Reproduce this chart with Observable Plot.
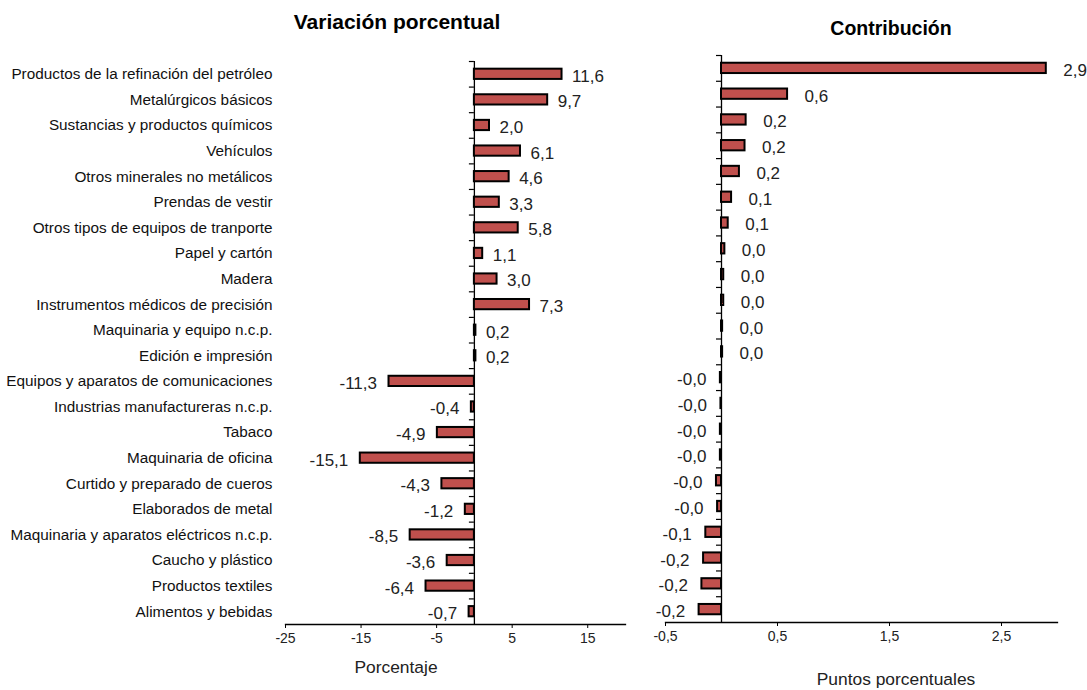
<!DOCTYPE html>
<html>
<head>
<meta charset="utf-8">
<script src="https://cdn.jsdelivr.net/npm/d3@7"></script>
<script src="https://cdn.jsdelivr.net/npm/@observablehq/plot@0.6"></script>
<style>
  html, body { margin: 0; padding: 0; background: #fff; }
  #wrap { position: relative; width: 1087px; height: 690px; font-family: "Liberation Sans", Arial, sans-serif; color: #000; overflow: hidden; }
  #wrap svg { position: absolute; top: 0; }
  .ttl { position: absolute; font-weight: bold; white-space: nowrap; transform: translateX(-50%); line-height: 1.15; }
  .axl { position: absolute; white-space: nowrap; transform: translateX(-50%); color: #222; line-height: 1.15; }
</style>
</head>
<body>
<div id="wrap"></div>
<script>
const categories = [
  "Productos de la refinación del petróleo",
  "Metalúrgicos básicos",
  "Sustancias y productos químicos",
  "Vehículos",
  "Otros minerales no metálicos",
  "Prendas de vestir",
  "Otros tipos de equipos de tranporte",
  "Papel y cartón",
  "Madera",
  "Instrumentos médicos de precisión",
  "Maquinaria y equipo n.c.p.",
  "Edición e impresión",
  "Equipos y aparatos de comunicaciones",
  "Industrias manufactureras n.c.p.",
  "Tabaco",
  "Maquinaria de oficina",
  "Curtido y preparado de cueros",
  "Elaborados de metal",
  "Maquinaria y aparatos eléctricos n.c.p.",
  "Caucho y plástico",
  "Productos textiles",
  "Alimentos y bebidas"
];
const variacion = [11.6, 9.7, 2.0, 6.1, 4.6, 3.3, 5.8, 1.1, 3.0, 7.3, 0.2, 0.2,
  -11.3, -0.4, -4.9, -15.1, -4.3, -1.2, -8.5, -3.6, -6.4, -0.7];
const contribucion = [2.9, 0.59, 0.22, 0.21, 0.16, 0.09, 0.06, 0.03, 0.02, 0.02, 0.01, 0.01,
  -0.01, -0.005, -0.01, -0.01, -0.045, -0.035, -0.14, -0.16, -0.175, -0.2];
const leftTicks = [-25, -15, -5, 5, 15];
const rightTicks = [-0.5, 0.5, 1.5, 2.5];

const fmtTick = d => String(d).replace(".", ",");
const fmtVal = v => (v < 0 ? "-" : "") + Math.abs(v).toFixed(1).replace(".", ",");

const left = categories.map((c, i) => ({cat: c, v: variacion[i]}));
const right = categories.map((c, i) => ({cat: c, v: contribucion[i]}));

const FILL = "#C0504D";
const FONT = "Liberation Sans, Arial, sans-serif";

function panel({data, width, height, mTop, mBottom, mLeft, mRight, domain, ticks, tickLen, labelGapPos, labelGapNeg, showCats}) {
  const bw = (height - mTop - mBottom) / categories.length;
  const xs = d3.scaleLinear().domain(domain).range([mLeft, width - mRight]);
  const tickUnits = xs.invert(mLeft + tickLen) - domain[0];
  const tickData = ticks.map(t => ({t, label: fmtTick(t)}));
  const marks = [
    Plot.ruleX([0], {stroke: "#000", strokeWidth: 1.3}),
    Plot.ruleY(categories, {y: d => d, x1: -tickUnits, x2: 0, dy: -bw / 2, stroke: "#000", strokeWidth: 1.2}),
    Plot.frame({anchor: "bottom", stroke: "#000", strokeWidth: 1.3}),
    Plot.axisX({ticks, tickSize: 4, text: null, stroke: "#000", label: null}),
    Plot.text(tickData, {x: "t", text: "label", frameAnchor: "bottom", dy: 18, fontSize: 14, fill: "#222"}),
    Plot.barX(data, {y: "cat", x: "v", fill: FILL, stroke: "#000", strokeWidth: 2, insetTop: bw * 0.3, insetBottom: bw * 0.3}),
    Plot.text(data.filter(d => d.v >= 0), {y: "cat", x: "v", text: d => fmtVal(d.v), textAnchor: "start", dx: labelGapPos, dy: 2, fontSize: 17, fill: "#222"}),
    Plot.text(data.filter(d => d.v < 0), {y: "cat", x: "v", text: d => fmtVal(d.v), textAnchor: "end", dx: -labelGapNeg, dy: 2, fontSize: 17, fill: "#222"})
  ];
  if (showCats) {
    marks.push(Plot.axisY({anchor: "left", tickSize: 0, tickPadding: 13, fontSize: 15.3, label: null, fill: "#111"}));
  }
  return Plot.plot({
    width, height,
    marginTop: mTop, marginBottom: mBottom, marginLeft: mLeft, marginRight: mRight,
    style: {fontFamily: FONT, background: "transparent", overflow: "visible"},
    x: {domain, axis: null},
    y: {domain: categories, padding: 0, round: false, axis: null},
    marks
  });
}

const wrap = document.getElementById("wrap");

const p1 = panel({data: left, width: 640, height: 690, mTop: 61, mBottom: 66, mLeft: 285, mRight: 15,
  domain: [-25, 20], ticks: leftTicks, tickLen: 5, labelGapPos: 10, labelGapNeg: 12, showCats: true});
p1.style.left = "0px";
wrap.appendChild(p1);

const p2 = panel({data: right, width: 447, height: 690, mTop: 55, mBottom: 68, mLeft: 25, mRight: 30,
  domain: [-0.5, 3.0], ticks: rightTicks, tickLen: 5, labelGapPos: 17, labelGapNeg: 14, showCats: false});
p2.style.left = "640px";
wrap.appendChild(p2);

function addText(cls, txt, x, y, size) {
  const d = document.createElement("div");
  d.className = cls; d.textContent = txt;
  d.style.left = x + "px"; d.style.top = y + "px"; d.style.fontSize = size + "px";
  wrap.appendChild(d);
}
addText("ttl", "Variación porcentual", 397, 10, 21);
addText("ttl", "Contribución", 891, 17, 19.5);
addText("axl", "Porcentaje", 396, 657, 17.4);
addText("axl", "Puntos porcentuales", 896, 669, 17.4);
</script>
</body>
</html>
